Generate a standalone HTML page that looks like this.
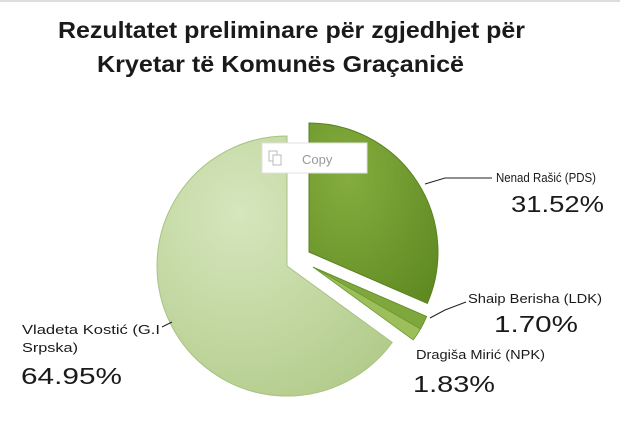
<!DOCTYPE html>
<html><head><meta charset="utf-8"><style>
html,body{margin:0;padding:0;background:#fff;}
svg{display:block;}
text{font-family:"Liberation Sans",sans-serif;fill:#1a1a1a;}
</style></head><body>
<svg width="620" height="436" viewBox="0 0 620 436">
<defs>
<radialGradient id="gl" cx="0.35" cy="0.3" r="0.8">
<stop offset="0" stop-color="#d6e6bd"/><stop offset="1" stop-color="#b3cc8c"/></radialGradient>
<radialGradient id="gd" cx="0.3" cy="0.3" r="0.9">
<stop offset="0" stop-color="#84ad3e"/><stop offset="1" stop-color="#5f8a22"/></radialGradient>
</defs>
<rect x="0" y="0" width="620" height="2" fill="#ddd"/>
<text x="58" y="38" font-size="23" font-weight="bold" textLength="467" lengthAdjust="spacingAndGlyphs">Rezultatet preliminare për zgjedhjet për</text>
<text x="97" y="72" font-size="23" font-weight="bold" textLength="367" lengthAdjust="spacingAndGlyphs">Kryetar të Komunës Graçanicë</text>
<path d="M287,266 L392.2,342.4 A130,130 0 1 1 287,136 Z" fill="url(#gl)" stroke="#a9c283" stroke-width="1"/>
<path d="M309,252 L309,123 A129,129 0 0 1 427.3,303.4 Z" fill="url(#gd)" stroke="#5a8020" stroke-width="1"/>
<path d="M313,267 L426.7,316.5 A124,124 0 0 1 420.5,329.0 Z" fill="#7ea83c" stroke="#5f8a22" stroke-width="0.8"/>
<path d="M313,267 L420.5,329.0 A124,124 0 0 1 413.2,340.0 Z" fill="#9cbf5c" stroke="#6f9a2e" stroke-width="0.8"/>
<polyline points="425,184 445,178 492,178" fill="none" stroke="#222" stroke-width="1"/>
<polyline points="430,318 445,310 466,302" fill="none" stroke="#222" stroke-width="1"/>
<polyline points="162,327 172,322" fill="none" stroke="#222" stroke-width="1"/>
<rect x="262" y="143" width="105" height="30" fill="#fff" stroke="#e0e0e0"/>
<rect x="269" y="151" width="8" height="10" fill="none" stroke="#bbb"/>
<rect x="273" y="155" width="8" height="10" fill="#fff" stroke="#bbb"/>
<text x="302" y="164" font-size="13" style="fill:#999">Copy</text>
<text x="496" y="182" font-size="13" textLength="100" lengthAdjust="spacingAndGlyphs">Nenad Rašić (PDS)</text>
<text x="511" y="212" font-size="23" textLength="93" lengthAdjust="spacingAndGlyphs">31.52%</text>
<text x="468" y="303" font-size="13" textLength="134" lengthAdjust="spacingAndGlyphs">Shaip Berisha (LDK)</text>
<text x="494" y="332" font-size="23" textLength="84" lengthAdjust="spacingAndGlyphs">1.70%</text>
<text x="416" y="359" font-size="13" textLength="129" lengthAdjust="spacingAndGlyphs">Dragiša Mirić (NPK)</text>
<text x="413" y="392" font-size="23" textLength="82" lengthAdjust="spacingAndGlyphs">1.83%</text>
<text x="22" y="334" font-size="13" textLength="138" lengthAdjust="spacingAndGlyphs">Vladeta Kostić (G.I</text>
<text x="22" y="352" font-size="13" textLength="56" lengthAdjust="spacingAndGlyphs">Srpska)</text>
<text x="21" y="384" font-size="23" textLength="101" lengthAdjust="spacingAndGlyphs">64.95%</text>
</svg>
</body></html>
